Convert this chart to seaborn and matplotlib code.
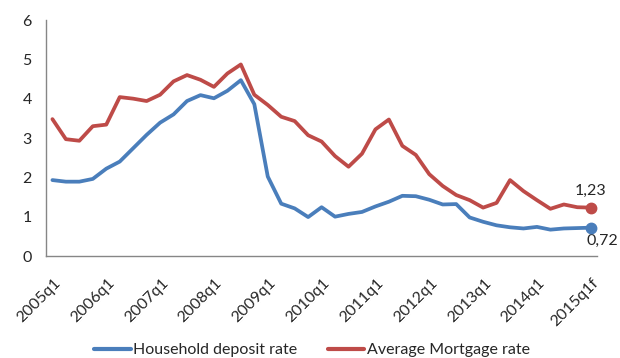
import matplotlib
matplotlib.use("Agg")
import matplotlib.pyplot as plt
import matplotlib.transforms as mtransforms
import seaborn as sns
import pandas as pd
import numpy as np

years = list(range(2005, 2015))
quarters = [f"{y}q{q}" for y in years for q in range(1, 5)] + ["2015q1f"]

deposit = [1.93, 1.89, 1.89, 1.96, 2.22, 2.40, 2.74, 3.08, 3.39, 3.60,
           3.94, 4.09, 4.01, 4.20, 4.47, 3.86, 2.02, 1.33, 1.21, 0.99,
           1.24, 1.00, 1.07, 1.12, 1.26, 1.38, 1.53, 1.52, 1.43, 1.31,
           1.32, 0.98, 0.87, 0.78, 0.73, 0.70, 0.74, 0.67, 0.70, 0.71,
           0.72]
mortgage = [3.48, 2.97, 2.93, 3.30, 3.34, 4.04, 4.00, 3.94, 4.10, 4.44,
            4.60, 4.48, 4.30, 4.64, 4.87, 4.10, 3.84, 3.54, 3.43, 3.07,
            2.91, 2.54, 2.27, 2.60, 3.22, 3.47, 2.80, 2.57, 2.08, 1.78,
            1.55, 1.42, 1.23, 1.35, 1.93, 1.65, 1.42, 1.20, 1.31, 1.24,
            1.23]
series_names = ["Household deposit rate", "Average Mortgage rate"]
end_labels = ["0,72", "1,23"]
yticks = [0, 1, 2, 3, 4, 5, 6]

sns.set_style("white")
plt.rcParams["font.family"] = ["Lato", "DejaVu Sans"]

BLUE = "#4A7EBB"
RED = "#BE4B48"
GREY = "#868686"

fig = plt.figure(figsize=(6.2, 3.58), dpi=100)
ax = fig.add_axes([45.7 / 620, 1 - 256 / 358, (597.5 - 45.7) / 620, (256 - 20) / 358])

df = pd.DataFrame({
    "idx": list(range(len(quarters))) * 2,
    "quarter": quarters * 2,
    "value": deposit + mortgage,
    "series": [series_names[0]] * len(deposit) + [series_names[1]] * len(mortgage),
})

sns.lineplot(data=df, x="idx", y="value", hue="series",
             palette={series_names[0]: BLUE, series_names[1]: RED},
             linewidth=2.7, ax=ax, sort=False, legend=True)

# end markers
last = len(quarters) - 1
ax.plot([last], [deposit[-1]], "o", color=BLUE, ms=7.5, zorder=5)
ax.plot([last], [mortgage[-1]], "o", color=RED, ms=7.5, zorder=5)
ax.annotate(end_labels[1], (last, mortgage[-1]), xytext=(0, 17),
            textcoords="offset pixels", ha="center", va="center", fontsize=11.5)
ax.annotate(end_labels[0], (last, deposit[-1]), xytext=(12, -13),
            textcoords="offset pixels", ha="center", va="center", fontsize=11.5)

ax.set_xlim(-0.5, last + 0.5)
ax.set_ylim(0, 6)
ax.set_yticks(yticks)
ax.set_yticklabels([str(t) for t in yticks], fontsize=11.5)

# category labels every 4 quarters, tick marks between categories
major = list(range(0, len(quarters), 4))
ax.set_xticks(major)
ax.set_xticklabels([quarters[i] for i in major], rotation=45, ha="right",
                   va="center", rotation_mode="anchor", fontsize=11.5)
ax.set_xticks([i - 0.5 for i in major], minor=True)
ax.tick_params(axis="x", which="major", length=0, pad=18)
ax.tick_params(axis="x", which="minor", length=4, color=GREY, width=1, direction="out")
ax.tick_params(axis="y", length=4, color=GREY, width=1, direction="out", pad=6)
for lab in ax.get_xticklabels():
    lab.set_transform(lab.get_transform() + mtransforms.ScaledTranslation(6 / 100, 0, fig.dpi_scale_trans))

for s in ["top", "right"]:
    ax.spines[s].set_visible(False)
for s in ["left", "bottom"]:
    ax.spines[s].set_color(GREY)
    ax.spines[s].set_linewidth(1)

ax.set_xlabel("")
ax.set_ylabel("")

leg = ax.legend(loc="center", bbox_to_anchor=(312 / 620, 1 - 350 / 358),
                bbox_transform=fig.transFigure, ncol=2, frameon=False,
                fontsize=11.5, handlelength=2.3, handletextpad=0.15,
                columnspacing=1.9)
for line in leg.get_lines():
    line.set_linewidth(3)

fig.savefig("out.png", dpi=100)
